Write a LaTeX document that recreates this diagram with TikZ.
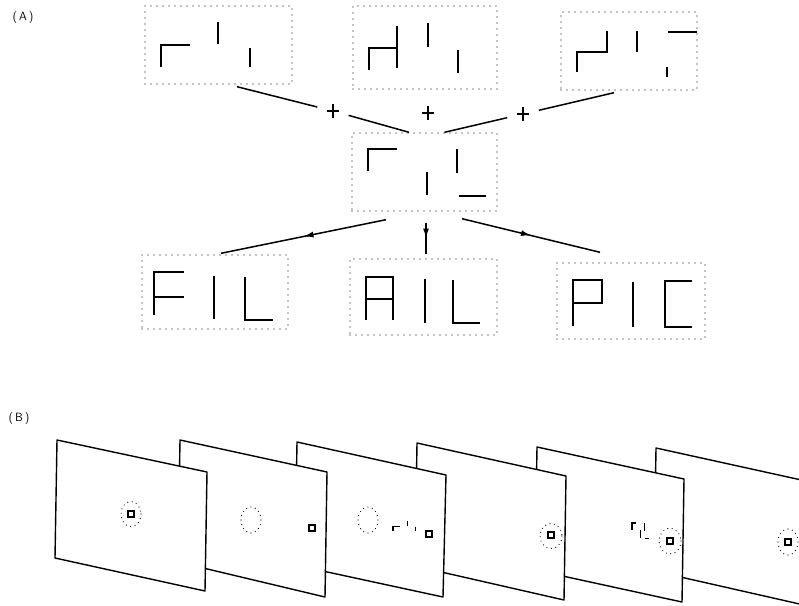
\documentclass[tikz,border=0pt]{standalone}
\usetikzlibrary{decorations.markings,arrows.meta}
\begin{document}
\begin{tikzpicture}[x=1pt,y=-1pt,
  dotbox/.style={draw, line width=1.4pt, line cap=round, dash pattern=on 0pt off 6pt, inner sep=0pt},
  glyph/.style={line width=2pt, line join=miter},
  mini/.style={line width=1.1pt},
  conn/.style={line width=1.5pt},
  plusnode/.style={circle, minimum size=32pt, inner sep=0pt},
  plusst/.style={line width=1.6pt},
  midarrow/.style={postaction={decorate}, decoration={markings, mark=at position 0.5 with {\arrow{Latex[length=10pt,width=6pt]}}}},
  panel/.style={draw, fill=white, line width=1.4pt, line join=round},
  ring/.style={draw, line width=1.2pt, line cap=round, dash pattern=on 0pt off 4.5pt},
  sq/.style={draw, line width=1.2pt, minimum size=6pt, inner sep=0pt},
  lbl/.style={font=\fontsize{12}{14}\selectfont\sffamily}
]
\useasboundingbox (0,0) rectangle (799,605);
\clip (0,0) rectangle (799,605);

% labels
\node[lbl] (labA) at (23,18) {(\,A\,)};
\node[lbl] (labB) at (19,418) {(\,B\,)};

% part A boxes
\node[dotbox, minimum width=147pt, minimum height=78pt] (tl) at (218.5,45) {};
\node[dotbox, minimum width=144pt, minimum height=83pt] (tm) at (425,47.5) {};
\node[dotbox, minimum width=136pt, minimum height=78pt] (tr) at (629,51) {};
\node[dotbox, minimum width=145pt, minimum height=78pt] (mid) at (424.5,172) {};
\node[dotbox, minimum width=146pt, minimum height=74pt] (fil) at (215,292) {};
\node[dotbox, minimum width=147pt, minimum height=76pt] (ail) at (423.5,297) {};
\node[dotbox, minimum width=148pt, minimum height=76pt] (pic) at (631,301) {};

% glyphs in boxes
\draw[glyph] (161,67)--(161,45)--(190,45) (218,22)--(218,44) (250,48)--(250,67);
\draw[glyph] (369,70)--(369,48)--(397,48) (397,26)--(397,68) (428,23)--(428,47) (458,50)--(458,73);
\draw[glyph] (577,72)--(577,52)--(607,52)--(607,31) (637,31)--(637,52) (668,32)--(697,32) (667,67)--(667,77);
\draw[glyph] (368,171)--(368,149)--(397,149) (427,172)--(427,195) (457,149)--(457,173) (459,196)--(486,196);
\draw[glyph] (154,315)--(154,272)--(184,272) (154,297)--(184,297) (214,276)--(214,319) (245,277)--(245,320)--(273,320);
\draw[glyph] (366,320)--(366,277)--(393,277)--(393,320) (366,299)--(393,299) (425,279)--(425,323) (453,280)--(453,323)--(480,323);
\draw[glyph] (573,326)--(573,280)--(602,280)--(602,303)--(573,303) (633,282)--(633,327) (692,281)--(665,281)--(665,327)--(692,327);

% plus signs
\node[plusnode] (p1) at (333,111) {};
\node[plusnode] (p2) at (428,113) {};
\node[plusnode] (p3) at (523,114) {};
\foreach \p in {p1,p2,p3}{
  \draw[plusst] ([yshift=-7pt]\p.center)--([yshift=7pt]\p.center)
                ([xshift=-6pt]\p.center)--([xshift=6pt]\p.center);
}

% connectors into the middle box
\draw[conn] ([shift={(18.5,2)}]tl.south) -- (p1);
\draw[conn] (p1) -- ([xshift=-15.5]mid.north);
\draw[conn] ([shift={(-15,2)}]tr.south) -- (p3);
\draw[conn] (p3) -- ([xshift=20]mid.north);

% arrows out of the middle box
\draw[conn, midarrow] ([shift={(-38.5,8)}]mid.south) -- ([shift={(6,-1)}]fil.north);
\draw[conn, midarrow] ([shift={(1.5,11)}]mid.south) -- ([shift={(2.5,-4)}]ail.north);
\draw[conn, midarrow] ([shift={(37.5,7)}]mid.south) -- ([shift={(-31,-10)}]pic.north);

% part B panels (back to front)
\draw[panel] (656,448) -- (806,481) -- (804,605) -- (654,571) -- cycle;
\draw[panel] (537,447) -- (684,479) -- (682,602) -- (535,570) -- cycle;
\draw[panel] (417,443) -- (566,476) -- (564,600) -- (415,566) -- cycle;
\draw[panel] (297,442) -- (446,475) -- (443,597) -- (295,565) -- cycle;
\draw[panel] (180,440) -- (327,472) -- (325,597) -- (178,562) -- cycle;
\draw[panel] (57,440) -- (207,472) -- (205,591) -- (55,558) -- cycle;

% panel contents
\draw[ring] (131,514) ellipse [x radius=10, y radius=12.5];
\node[sq] (s1) at (131,514) {};
\draw[ring] (251,520) ellipse [x radius=10, y radius=13];
\node[sq] (s2) at (312,528) {};
\draw[ring] (368,520) ellipse [x radius=10, y radius=13];
\begin{scope}[shift={(393,521)}, xscale=0.25, yscale=0.22, shift={(-161,-22)}]
  \draw[mini] (161,67)--(161,45)--(190,45) (218,22)--(218,44) (250,48)--(250,67);
\end{scope}
\node[sq] (s3) at (429,534) {};
\draw[ring] (551,536) ellipse [x radius=11, y radius=12.5];
\node[sq] (s4) at (551,535) {};
\begin{scope}[shift={(632,523)}, xscale=0.145, yscale=0.32, shift={(-368,-149)}]
  \draw[mini] (368,171)--(368,149)--(397,149) (427,172)--(427,195) (457,149)--(457,173) (459,196)--(486,196);
\end{scope}
\draw[ring] (670,541) ellipse [x radius=11, y radius=13];
\node[sq] (s5) at (670,541) {};
\draw[ring] (788,542) ellipse [x radius=10, y radius=13];
\node[sq] (s6) at (788,542) {};
\end{tikzpicture}
\end{document}
